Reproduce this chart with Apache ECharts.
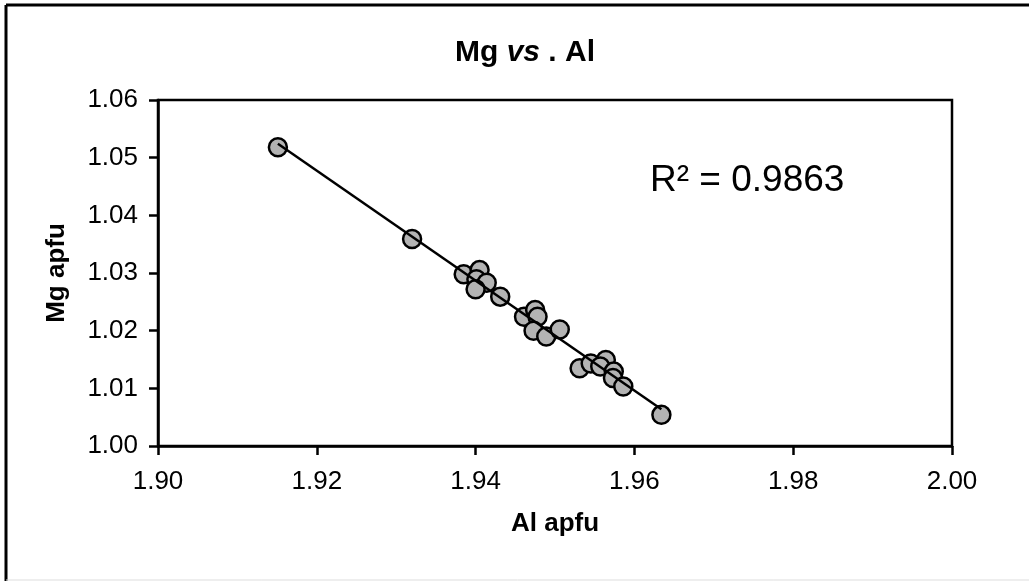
<!DOCTYPE html>
<html>
<head>
<meta charset="utf-8">
<script src="https://cdn.jsdelivr.net/npm/echarts/dist/echarts.min.js"></script>
<style>
  html, body { margin: 0; padding: 0; background: #fff; }
</style>
</head>
<body>
<div id="chart" style="width: 1029px; height: 581px;"></div>

<script>
  // Al apfu / Mg apfu readings
  var alValues = [1.9151, 1.9320, 1.9385, 1.9405, 1.9401, 1.9414, 1.9400, 1.9431, 1.9461, 1.9475, 1.9478,
                  1.9473, 1.9489, 1.9506, 1.9531, 1.9545, 1.9564, 1.9557, 1.9574, 1.9573, 1.9586, 1.9634];
  var mgValues = [1.0518, 1.0359, 1.0298, 1.0305, 1.0289, 1.0283, 1.0272, 1.0259, 1.0224, 1.0236, 1.0224,
                  1.0200, 1.0190, 1.0202, 1.0135, 1.0143, 1.0149, 1.0138, 1.0129, 1.0118, 1.0103, 1.0054];
  var rSquaredLabel = 'R² = 0.9863';

  var font = '"Liberation Sans", Arial, sans-serif';

  var points = alValues.map(function (x, i) { return [x, mgValues[i]]; });

  // linear trend line (least squares), drawn between the extreme Al values
  var n = alValues.length, sx = 0, sy = 0, sxx = 0, sxy = 0;
  for (var i = 0; i < n; i++) {
    sx += alValues[i]; sy += mgValues[i];
    sxx += alValues[i] * alValues[i]; sxy += alValues[i] * mgValues[i];
  }
  var slope = (n * sxy - sx * sy) / (n * sxx - sx * sx);
  var icpt = (sy - slope * sx) / n;
  var xMin = Math.min.apply(null, alValues), xMax = Math.max.apply(null, alValues);
  var trend = [[xMin, icpt + slope * xMin], [xMax, icpt + slope * xMax]];

  var chart = echarts.init(document.getElementById('chart'));

  var option = {
    backgroundColor: '#fff',
    animation: false,
    title: {
      text: '{b|Mg }{i|vs}{b| . Al}',
      left: 520,
      top: 33,
      textAlign: 'center',
      textStyle: {
        rich: {
          b: { fontFamily: font, fontSize: 30, fontWeight: 'bold', color: '#000' },
          i: { fontFamily: font, fontSize: 30, fontWeight: 'bold', fontStyle: 'italic', color: '#000' }
        }
      }
    },
    grid: {
      left: 158, top: 100, right: 77, bottom: 135,
      show: true, borderColor: '#000', borderWidth: 2.5
    },
    xAxis: {
      type: 'value',
      min: 1.90, max: 2.00, interval: 0.02,
      name: 'Al apfu',
      nameLocation: 'middle',
      nameGap: 65,
      nameTextStyle: { fontFamily: font, fontSize: 26, fontWeight: 'bold', color: '#000' },
      axisLine: { lineStyle: { color: '#000', width: 2.5 } },
      axisTick: { inside: false, length: 9, lineStyle: { color: '#000', width: 2.5 } },
      axisLabel: {
        margin: 23, fontFamily: font, fontSize: 26, color: '#000',
        formatter: function (v) { return v.toFixed(2); }
      },
      splitLine: { show: false }
    },
    yAxis: {
      type: 'value',
      min: 1.00, max: 1.06, interval: 0.01,
      name: 'Mg apfu',
      nameLocation: 'middle',
      nameGap: 88,
      nameTextStyle: { fontFamily: font, fontSize: 26, fontWeight: 'bold', color: '#000' },
      axisLine: { lineStyle: { color: '#000', width: 2.5 } },
      axisTick: { inside: false, length: 9, lineStyle: { color: '#000', width: 2.5 } },
      axisLabel: {
        margin: 20, fontFamily: font, fontSize: 26, color: '#000',
        formatter: function (v) { return v.toFixed(2); }
      },
      splitLine: { show: false }
    },
    series: [
      {
        type: 'scatter',
        data: points,
        symbol: 'circle',
        symbolSize: 18,
        itemStyle: { color: '#b3b3b3', borderColor: '#000', borderWidth: 2.5, opacity: 1 },
        z: 2
      },
      {
        type: 'line',
        data: trend,
        showSymbol: false,
        symbol: 'none',
        lineStyle: { color: '#000', width: 2.5 },
        z: 3
      }
    ],
    graphic: [
      {
        type: 'text',
        left: 650,
        top: 162,
        style: { text: rSquaredLabel, font: '37px ' + font, fill: '#000' }
      },
      // outer frame of the figure
      { type: 'line', shape: { x1: 6, y1: 5, x2: 6, y2: 581 }, style: { stroke: '#000', lineWidth: 3 } },
      { type: 'line', shape: { x1: 6, y1: 5, x2: 1029, y2: 5 }, style: { stroke: '#000', lineWidth: 3 } },
      { type: 'line', shape: { x1: 6, y1: 580, x2: 1029, y2: 580 }, style: { stroke: '#ddd', lineWidth: 1 } }
    ]
  };

  chart.setOption(option);
</script>
</body>
</html>
